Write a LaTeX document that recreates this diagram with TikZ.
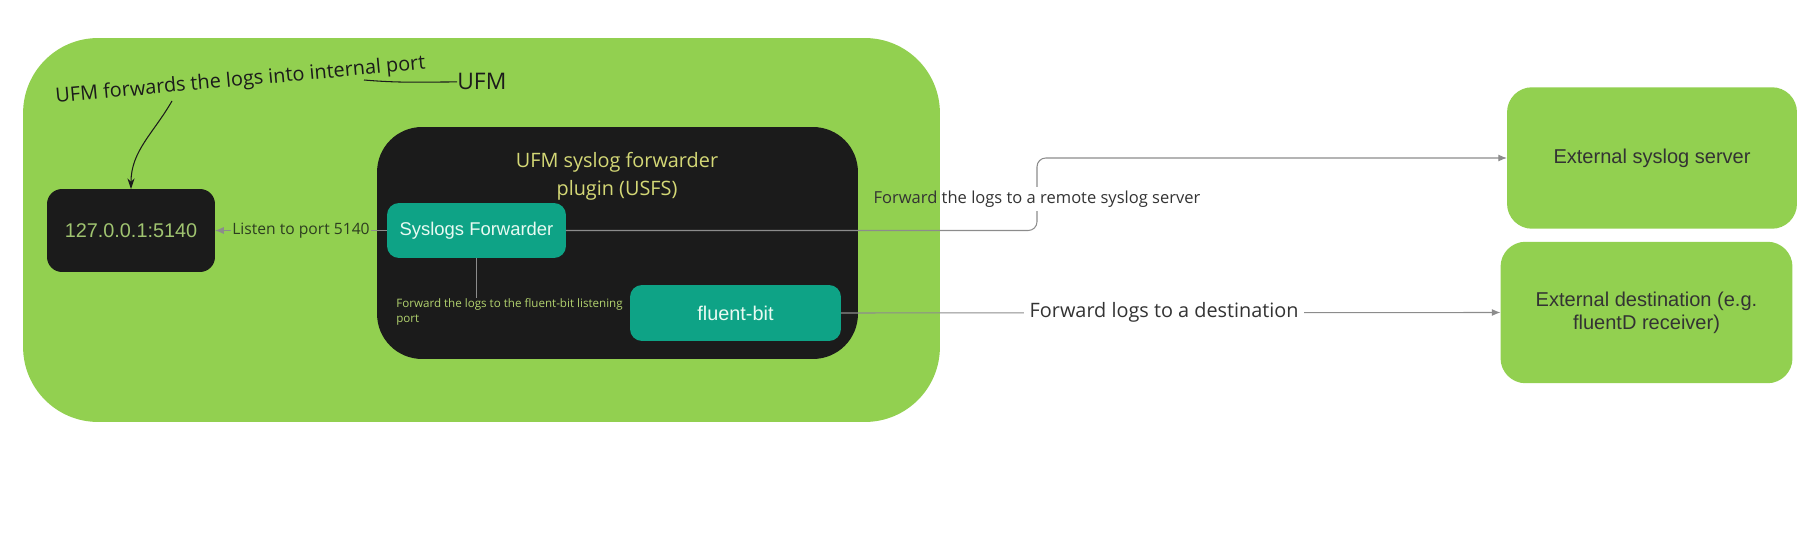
\documentclass[tikz,border=0pt]{standalone}
\usepackage{fontspec}
\setmainfont{Open Sans}
\newfontfamily\arialfont{Liberation Sans}
\usepackage{tikz}
\usetikzlibrary{positioning,arrows.meta}

\definecolor{ufmgreen}{RGB}{146,208,80}
\definecolor{boxblack}{RGB}{27,27,27}
\definecolor{fwdteal}{RGB}{14,163,134}
\definecolor{titlekhaki}{RGB}{212,216,118}
\definecolor{portkhaki}{RGB}{160,196,112}
\definecolor{notegreen}{RGB}{178,210,110}
\definecolor{boxtext}{RGB}{232,250,242}
\definecolor{linegray}{RGB}{140,140,140}
\definecolor{textdark}{RGB}{51,51,51}
\definecolor{labeldark}{RGB}{45,62,32}

\begin{document}
\begin{tikzpicture}[x=0.02cm, y=-0.02cm,
    greenbox/.style={fill=ufmgreen, inner sep=0pt, outer sep=0pt},
    blackbox/.style={fill=boxblack, inner sep=0pt, outer sep=0pt},
    tealbox/.style={fill=fwdteal, rounded corners=0.24cm, inner sep=0pt, outer sep=0pt,
        text=boxtext, font=\arialfont},
    extbox/.style={greenbox, rounded corners=0.5cm, minimum width=5.8cm, minimum height=2.83cm,
        text=textdark, font=\arialfont\fontsize{11.4}{13}\selectfont, align=center},
    flow/.style={draw=linegray, line width=0.6pt, -{Latex[length=5pt,width=4pt]}},
    plain/.style={draw=linegray, line width=0.6pt}]
    \useasboundingbox (0,0) rectangle (1815,550);

    % UFM host and the plugin
    \node[greenbox, rounded corners=1.5cm, minimum width=18.34cm, minimum height=7.68cm] (ufm) at (481.5,230) {};
    \node[blackbox, rounded corners=0.9cm, minimum width=9.62cm, minimum height=4.64cm] (usfs) at (617.5,243) {};
    \node[text=titlekhaki, align=center, font=\fontsize{11.3}{16}\selectfont] (usfstitle) at (617,176)
        {UFM syslog forwarder\\plugin (USFS)};
    \node[blackbox, rounded corners=0.3cm, minimum width=3.36cm, minimum height=1.66cm,
        text=portkhaki, font=\arialfont\fontsize{11.3}{13}\selectfont] (lb) at (131,230.5) {127.0.0.1:5140};
    \node[tealbox, minimum width=3.58cm, minimum height=1.1cm, font=\arialfont\fontsize{10.5}{12}\selectfont] (sf) at (476.5,230.5) {Syslogs Forwarder};
    \node[tealbox, minimum width=4.22cm, minimum height=1.12cm, font=\arialfont\fontsize{11.3}{13}\selectfont] (fb) at (735.5,313) {fluent-bit};

    % outside destinations
    \node[extbox] (syslogsrv) at (1652,158) {External syslog server};
    \node[extbox, minimum width=5.84cm] (dest) at (1646.5,312.5) {External destination (e.g.\\fluentD receiver)};

    % UFM annotation
    \node[inner sep=0pt, anchor=base west, text=boxblack, font=\fontsize{13}{15}\selectfont] (ufmname) at (457,90) {UFM};
    \node[inner sep=0pt, anchor=base, rotate=5.2, text=boxblack, font=\fontsize{11.3}{13}\selectfont] (ufmnote) at (241,86)
        {UFM forwards the logs into internal port};
    \coordinate (notein) at (364,80);
    \coordinate (noteout) at (172,101);
    \draw[boxblack, line width=0.6pt] (ufmname.west) to[out=180,in=-5] (notein);
    \draw[boxblack, line width=0.6pt, -{Stealth[length=6pt,width=4pt]}] (noteout) to[out=240,in=90] (lb.north);

    % connectors
    \draw[flow] (sf.west) -- node[fill=ufmgreen, inner sep=1pt, text=labeldark,
        font=\fontsize{8.9}{10}\selectfont] {Listen to port 5140} (lb.east);

    \node[inner sep=0pt, anchor=north west, align=left, text=notegreen, font=\fontsize{6.6}{8.6}\selectfont] (fbnote) at (396,298)
        {Forward the logs to the fluent-bit listening\\port};
    \draw[plain] (sf.south) -- (sf.south |- fbnote.north);

    \node[inner sep=2pt, text=textdark, font=\fontsize{9.4}{11}\selectfont] (remote) at (1037,199)
        {Forward the logs to a remote syslog server};
    \draw[plain, rounded corners=5pt] (sf.east) -| (remote.south);
    \draw[flow, rounded corners=5pt] (remote.north) |- (syslogsrv.west);

    \draw[flow] (fb.east) -- node[pos=0.49, fill=white, inner sep=3pt, text=textdark,
        font=\fontsize{11.3}{13}\selectfont] {Forward logs to a destination} (dest.west);
\end{tikzpicture}
\end{document}
